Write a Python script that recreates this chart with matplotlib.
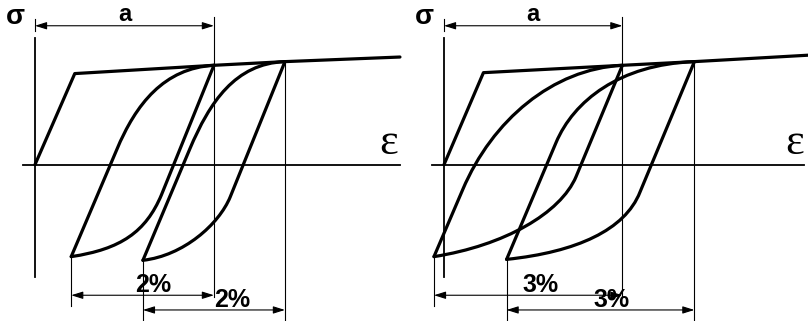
import matplotlib.pyplot as plt
from matplotlib.path import Path
from matplotlib.patches import PathPatch

# strain in %, stress relative to yield stress
# left diagram: 2 % strain cycles
left_env_eps = [0.0, 0.56, 2.52, 3.52, 5.14]
left_env_sig = [0.0, 0.99, 1.08, 1.12, 1.17]
# loop branches: start, end of straight part, two bezier handles, end
left_up1 = [(0.51, -1.00), (1.15, 0.16), (1.42, 0.66), (1.82, 1.05), (2.52, 1.08)]
left_down1 = [(2.52, 1.08), (1.78, -0.33), (1.56, -0.73), (1.21, -0.92), (0.51, -1.00)]
left_up2 = [(1.52, -1.04), (2.18, 0.17), (2.46, 0.68), (2.82, 1.10), (3.52, 1.12)]
left_down2 = [(3.52, 1.12), (2.75, -0.35), (2.59, -0.65), (2.09, -0.99), (1.52, -1.04)]
left_label = "2%"

# right diagram: 3 % strain cycles
right_env_eps = [0.0, 0.63, 2.85, 4.00, 5.82]
right_env_sig = [0.0, 1.00, 1.08, 1.12, 1.19]
right_up1 = [(-0.16, -1.00), (0.30, -0.27), (0.77, 0.48), (1.73, 1.04), (2.85, 1.08)]
right_down1 = [(2.85, 1.08), (2.11, -0.13), (1.86, -0.53), (0.96, -0.88), (-0.16, -1.00)]
right_up2 = [(1.00, -1.03), (1.79, 0.24), (2.07, 0.69), (2.80, 1.09), (4.00, 1.12)]
right_down2 = [(4.00, 1.12), (3.13, -0.30), (2.89, -0.71), (2.12, -0.95), (1.00, -1.03)]
right_label = "3%"

codes = [Path.MOVETO, Path.LINETO, Path.CURVE4, Path.CURVE4, Path.CURVE4]
thick = 2.3
thin = 0.8
arrow = dict(arrowstyle="<|-|>,head_length=0.7,head_width=0.22", color="black",
             lw=thin, shrinkA=0, shrinkB=0, mutation_scale=10)


def branch(ax, pts):
    ax.add_patch(PathPatch(Path(pts, codes), fill=False, lw=thick, ec="black",
                           joinstyle="round", capstyle="round"))


def dim(ax, x0, x1, y):
    ax.annotate("", xy=(x1, y), xytext=(x0, y), arrowprops=arrow)


def panel(ax, env_eps, env_sig, up1, down1, up2, down2, label, xlim, pct_pos, ax_left):
    ax.set_xlim(*xlim)
    ax.set_ylim(-1.70, 1.79)
    ax.axis("off")

    # axes of the diagram
    ax.plot([0, 0], [-1.22, 1.38], color="black", lw=1.3)
    ax.plot([ax_left, xlim[1] - 0.06], [0, 0], color="black", lw=1.3)
    ax.text(xlim[1] - 0.22, 0.02, "ε", fontsize=32, family="Liberation Serif",
            ha="center", va="bottom")
    ax.annotate("σ", xy=(0, 1.60), xytext=(-20, 0), textcoords="offset pixels",
                fontsize=20, fontweight="bold", family="Liberation Sans",
                ha="center", va="center")

    # monotonic curve and the two loops
    ax.plot(env_eps, env_sig, color="black", lw=thick, solid_joinstyle="round",
            solid_capstyle="round")
    for pts in (up1, down1, up2, down2):
        branch(ax, pts)

    a_eps, a_sig = down1[0]
    c_eps, c_sig = down2[0]
    b1_eps, b1_sig = up1[0]
    b2_eps, b2_sig = up2[0]

    # dimension "a"
    ax.plot([0, 0], [1.45, 1.58], color="black", lw=thin)
    ax.plot([a_eps, a_eps], [-1.44, 1.61], color="black", lw=thin)
    dim(ax, 0, a_eps, 1.51)
    ax.text(a_eps / 2, 1.63, "a", fontsize=17, fontweight="bold",
            family="Liberation Sans", ha="center", va="center")

    # loop widths
    ax.plot([c_eps, c_eps], [c_sig, -1.70], color="black", lw=thin)
    ax.plot([b1_eps, b1_eps], [b1_sig, -1.54], color="black", lw=thin)
    ax.plot([b2_eps, b2_eps], [b2_sig, -1.70], color="black", lw=thin)
    dim(ax, b1_eps, a_eps, -1.42)
    dim(ax, b2_eps, c_eps, -1.58)
    for (x, y) in pct_pos:
        ax.text(x, y, label, fontsize=18, fontweight="bold",
                family="Liberation Sans", ha="center", va="center")


fig = plt.figure(figsize=(8.08, 3.21), dpi=100)
axL = fig.add_axes([0, 0, 0.5, 1])
axR = fig.add_axes([0.5, 0, 0.5, 1])

panel(axL, left_env_eps, left_env_sig, left_up1, left_down1, left_up2, left_down2,
      left_label, (-0.493, 5.197), [(1.66, -1.31), (2.78, -1.47)], -0.17)
panel(axR, right_env_eps, right_env_sig, right_up1, right_down1, right_up2, right_down2,
      right_label, (-0.639, 5.815), [(1.55, -1.31), (2.68, -1.47)], -0.19)

fig.savefig("out.png", dpi=100)
